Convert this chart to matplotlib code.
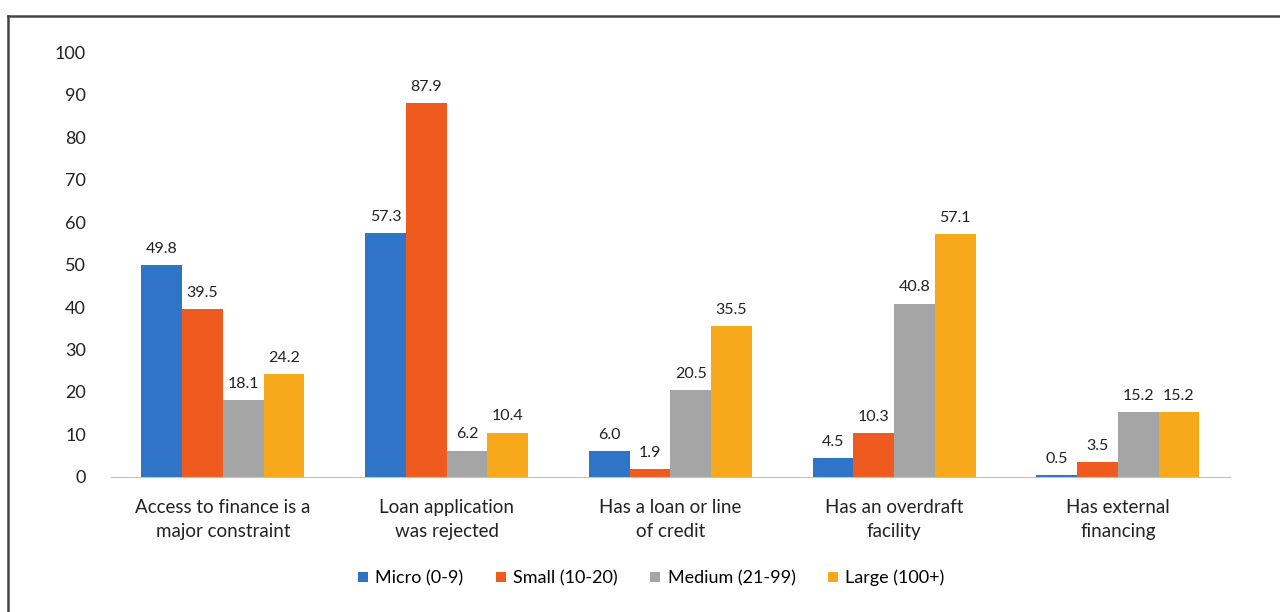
import matplotlib.pyplot as plt
import numpy as np
from matplotlib.lines import Line2D

categories = ["Access to finance is a\nmajor constraint", "Loan application\nwas rejected",
              "Has a loan or line\nof credit", "Has an overdraft\nfacility", "Has external\nfinancing"]
series = ["Micro (0-9)", "Small (10-20)", "Medium (21-99)", "Large (100+)"]
micro = [49.8, 57.3, 6.0, 4.5, 0.5]
small = [39.5, 87.9, 1.9, 10.3, 3.5]
medium = [18.1, 6.2, 20.5, 40.8, 15.2]
large = [24.2, 10.4, 35.5, 57.1, 15.2]
colors = ["#2f74c6", "#ef5b1f", "#a5a5a5", "#f7a81b"]

plt.rcParams["font.family"] = ["Lato", "DejaVu Sans"]

fig = plt.figure(figsize=(12.8, 6.12), dpi=100)
ax = fig.add_axes([0.0867, 0.2206, 0.874, 0.6944])

x = np.arange(len(categories))
w = 0.182
for i, (vals, name) in enumerate(zip([micro, small, medium, large], series)):
    pos = x + (i - 1.5) * w
    bars = ax.bar(pos, vals, w, color=colors[i], label=name)
    for b, v in zip(bars, vals):
        ax.text(b.get_x() + b.get_width() / 2, v + 2.2, f"{v:.1f}",
                ha="center", va="bottom", fontsize=11.5, color="#222222")

ax.set_xlim(-0.5, 4.5)
ax.set_ylim(0, 100)
ax.set_yticks(range(0, 101, 10))
ax.set_xticks(x)
ax.set_xticklabels(categories, fontsize=13.5, color="#222222", linespacing=1.45)
ax.tick_params(axis="both", length=0)
ax.tick_params(axis="x", pad=16)
ax.tick_params(axis="y", labelsize=13, labelcolor="#222222", pad=18)
for s in ["top", "right", "left"]:
    ax.spines[s].set_visible(False)
ax.spines["bottom"].set_color("#c9bfb8")

ax.legend(loc="center", bbox_to_anchor=(0.483, -0.238), ncol=4, frameon=False,
          fontsize=13, handlelength=0.55, handleheight=0.55, handletextpad=0.4,
          columnspacing=1.8)

# outer frame (left and top edges)
fig.add_artist(Line2D([8 / 1280, 8 / 1280], [0, 1 - 16 / 612], color="#444444", lw=1.8))
fig.add_artist(Line2D([8 / 1280, 1], [1 - 16 / 612, 1 - 16 / 612], color="#444444", lw=1.8))

fig.savefig("out.png", dpi=100)
